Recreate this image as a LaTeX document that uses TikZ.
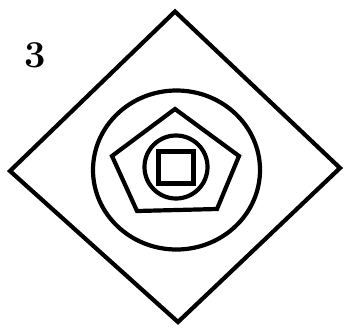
\documentclass[tikz,border=0pt]{standalone}
\usetikzlibrary{positioning}
\begin{document}
\begin{tikzpicture}[
    x=1pt, y=-1pt,
    outline/.style={draw=black, line width=4.2pt, line join=miter},
    tag/.style={font=\fontsize{38}{38}\selectfont\bfseries, inner sep=0pt}
  ]
    \useasboundingbox (0,0) rectangle (344,330);
    % outer diamond
    \draw[outline] (175,11.5) -- (340,168) -- (178,322) -- (10,171) -- cycle;
    % large circle
    \draw[outline] (176.5,170) ellipse [x radius=83.5, y radius=79.5];
    % pentagon
    \draw[outline] (175,109) -- (239,156) -- (217,209) -- (137,211) -- (112,156) -- cycle;
    % small circle
    \draw[outline] (176,167) circle [radius=31.5];
    % square
    \draw[outline, line width=5pt] (158.5,151.5) rectangle (193,183.5);
    % number
    \node[tag] (num) at (35.5,55) {3};
\end{tikzpicture}
\end{document}
